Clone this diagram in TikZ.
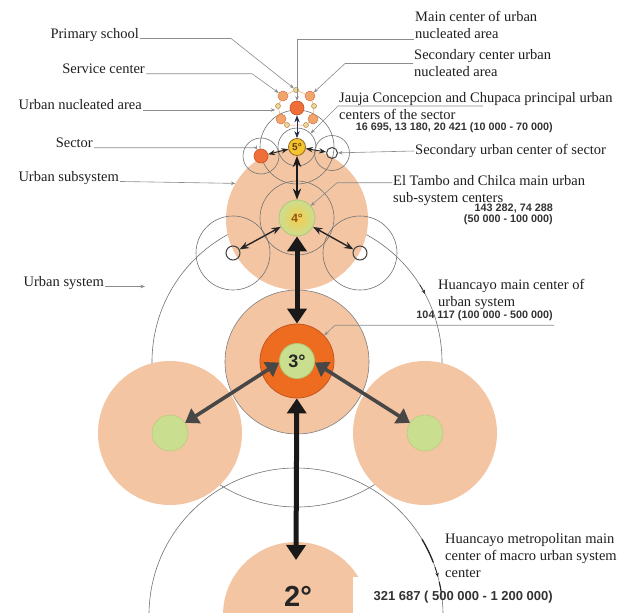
\documentclass[tikz,border=0pt]{standalone}
\usepackage{fontspec}
\setmainfont{Liberation Serif}
\newfontfamily\numfont{Liberation Sans}
\usetikzlibrary{arrows.meta}

\definecolor{peach}{RGB}{243,197,162}
\definecolor{ringorange}{RGB}{238,108,32}
\definecolor{ringedge}{RGB}{196,84,34}
\definecolor{sage}{RGB}{202,222,144}
\definecolor{sageedge}{RGB}{176,200,118}
\definecolor{gold}{RGB}{244,196,44}
\definecolor{goldedge}{RGB}{150,108,34}
\definecolor{mainorange}{RGB}{240,110,58}
\definecolor{secorange}{RGB}{243,164,104}
\definecolor{schoolfill}{RGB}{240,214,150}
\definecolor{navy}{RGB}{40,44,80}
\definecolor{brownnum}{RGB}{140,84,20}

\begin{document}
\begin{tikzpicture}[x=1pt, y=-1pt, >=Stealth,
    font=\fontsize{14.5}{17}\selectfont,
    dot/.style={circle, inner sep=0pt, minimum size=#1},
    halo/.style={dot=#1, draw=black!55, line width=0.6pt},
    lbl/.style={inner sep=1pt, text=black!88, align=left},
    num/.style={inner sep=1pt, text=black!80, align=right,
      font=\numfont\bfseries\fontsize{10.8}{11}\selectfont},
    leader/.style={draw=black!45, line width=0.6pt, -{Stealth[length=4.5pt,width=3.5pt]}},
    bigtip/.style={<->, >={Triangle[length=15pt,width=19pt]}},
    sidetip/.style={<->, >={Triangle[length=13pt,width=17pt]}}]
  \useasboundingbox (0,0) rectangle (635,613);
  \clip (0,0) rectangle (635,613);
  \fill[white] (0,0) rectangle (635,613);
  % ------------------------------------------------------------------ system circles
  \node[halo=290] (usys) at (297,362) {};
  \node[halo=294] (macro) at (296,615) {};
  % ------------------------------------------------------------------ pink areas
  \node[dot=142, fill=peach] (sub4) at (297,219) {};
  \node[dot=144, fill=peach, draw=black!50, line width=0.6pt] (p3) at (297,362) {};
  \node[dot=144, fill=peach] (p3l) at (170,433) {};
  \node[dot=144, fill=peach] (p3r) at (425,433) {};
  \node[dot=146, fill=peach] (p2) at (296,615) {};
  \fill[white] (353,577) rectangle (376,613);
  % ------------------------------------------------------------------ rings
  \node[halo=74] (ring4) at (297,218) {};
  \node[halo=74] (ho4l) at (233,253) {};
  \node[halo=74] (ho4r) at (360,253) {};
  \node[halo=74] (ring5b) at (297,147) {};
  \node[halo=38] (ring5a) at (297,147) {};
  \node[halo=36] (hs5l) at (261,156) {};
  \node[halo=35] (hs5r) at (332,153) {};
  % ------------------------------------------------------------------ level 3
  \node[dot=74, fill=ringorange, draw=ringedge, line width=0.8pt] (ring3) at (297,361) {};
  \node[dot=35, fill=sage, draw=sageedge, line width=0.8pt,
    font=\numfont\bfseries\fontsize{18}{18}\selectfont, text=black!85] (c3) at (297,361) {3°};
  \node[dot=36, fill=sage, draw=sageedge] (g3l) at (170,433) {};
  \node[dot=36, fill=sage, draw=sageedge] (g3r) at (425,433) {};
  % ------------------------------------------------------------------ level 4
  \node[dot=36, draw=sageedge, line width=0.8pt, inner color=gold!85, outer color=sage,
    font=\numfont\bfseries\fontsize{12}{12}\selectfont, text=brownnum] (c4) at (297,218) {4°};
  \node[dot=14, draw=black!75, line width=1pt] (o4l) at (233,253) {};
  \node[dot=14, draw=black!75, line width=1pt] (o4r) at (360,253) {};
  % ------------------------------------------------------------------ level 5
  \node[dot=17, fill=gold, draw=goldedge, line width=0.8pt,
    font=\numfont\bfseries\fontsize{10}{10}\selectfont, text=brownnum!70!black] (c5) at (297,147) {5°};
  \node[dot=14, fill=mainorange, draw=ringedge, line width=0.6pt] (s5l) at (261,156) {};
  \node[dot=11, draw=black!75, line width=1pt] (s5r) at (332,153) {};
  % ------------------------------------------------------------------ urban nucleated area
  \node[dot=14, fill=mainorange, draw=ringedge, line width=0.6pt] (nmain) at (297,108) {};
  \foreach \k/\px/\py in {1/283/96, 2/310/96, 3/281/119, 4/313/119}
    \node[dot=10, fill=secorange, draw=ringedge!80, line width=0.5pt] (n\k) at (\px,\py) {};
  \foreach \k/\px/\py in {0/296/90, 1/278/106, 2/314/106, 3/287/125, 4/306/125}
    \node[dot=5, fill=schoolfill, draw=goldedge!80, line width=0.5pt] (ps\k) at (\px,\py) {};
  \draw[secorange, line width=0.5pt] (ps0) -- (n2) -- (ps2) -- (n4) -- (ps4) -- (ps3)
    -- (n3) -- (ps1) -- (n1) -- (ps0);
  % ------------------------------------------------------------------ links between centres
  \draw[<->, navy, line width=0.9pt] (nmain) -- (c5);
  \draw[<->, black!85, line width=0.9pt] (c5) -- (s5l);
  \draw[<->, black!85, line width=0.9pt] (c5) -- (s5r);
  \draw[<->, black!90, line width=1.8pt] (c5) -- (c4);
  \draw[<->, black!85, line width=1.4pt] (c4) -- (o4l);
  \draw[<->, black!85, line width=1.4pt] (c4) -- (o4r);
  \coordinate (tip2) at (296,560);
  \draw[bigtip, line width=5pt, black!90] (c4) -- (ring3);
  \draw[bigtip, line width=5pt, black!90] (ring3) -- (tip2);
  \draw[sidetip, line width=3.6pt, black!72] (c3.185) -- (g3l.34);
  \draw[sidetip, line width=3.6pt, black!72] (c3.-5) -- (g3r.146);
  % marks on the system circles
  \draw[black!80, line width=0.8pt, -{Stealth[length=4pt,width=3.5pt]}]
    (usys.center) ++(-32:145) arc[start angle=-32, end angle=-28, radius=145];
  \draw[black!85, line width=1.3pt]
    (macro.center) ++(-31:147) arc[start angle=-31, end angle=-21, radius=147];
  \draw[black!85, line width=0.8pt, -{Stealth[length=4pt,width=3.5pt]}]
    (macro.center) ++(-19:147) arc[start angle=-19, end angle=-15, radius=147];
  \draw[black!85, line width=1.1pt]
    (macro.center) ++(-13:147) arc[start angle=-13, end angle=-9, radius=147];
  \node[inner sep=0pt, font=\numfont\bfseries\fontsize{29}{29}\selectfont, text=black!85]
    (t2) at (298,596) {2°};
  % ------------------------------------------------------------------ labels, left
  \node[lbl, anchor=east] (lps) at (140,35) {Primary school};
  \node[lbl, anchor=east] (lsc) at (146,69) {Service center};
  \node[lbl, anchor=east] (luna) at (143,105) {Urban nucleated area};
  \node[lbl, anchor=east] (lsec) at (94,143) {Sector};
  \node[lbl, anchor=east] (lusub) at (120,178) {Urban subsystem};
  \node[lbl, anchor=east] (lusys) at (105,283) {Urban system};
  \draw[leader] (lps.base east) -- ++(91,0) -- (ps0);
  \draw[leader] (lsc.base east) -- ++(106,0) -- (n1);
  \draw[leader] (luna.base east) -- (luna.base east -| ps1.west);
  \draw[leader] (lsec.base east) -- ++(162,0) -- (s5l);
  \draw[leader] (lusub.base east) -- (sub4.150);
  \draw[leader] (lusys.base east) -- ++(40,0);
  % ------------------------------------------------------------------ labels, right
  \node[lbl, anchor=west] (lmain) at (414,24.5) {Main center of urban\\nucleated area};
  \node[lbl, anchor=west] (lscn) at (413,63.5) {Secondary center urban\\nucleated area};
  \node[lbl, anchor=west] (ljau) at (338,106)
    {Jauja Concepcion and Chupaca principal urban\\centers of the sector};
  \node[lbl, anchor=west] (lsus) at (414,151) {Secondary urban center of sector};
  \node[lbl, anchor=west] (ltam) at (392,190.5) {El Tambo and Chilca main urban\\sub-system centers};
  \node[lbl, anchor=west] (lhmc) at (437,294) {Huancayo main center of\\urban system};
  \node[lbl, anchor=west] (lhmet) at (444,556)
    {Huancayo metropolitan main\\center of macro urban system\\center};
  \node[num, anchor=east] (njau) at (554,127.5) {16 695, 13 180, 20 421 (10 000 - 70 000)};
  \node[num, anchor=east] (ntam) at (554,214) {143 282, 74 288\\(50 000 - 100 000)};
  \node[num, anchor=east] (n104) at (554,316) {104 117 (100 000 - 500 000)};
  \node[num, anchor=east, font=\numfont\bfseries\fontsize{13}{13}\selectfont]
    (n321) at (554,597) {321 687 ( 500 000 - 1 200 000)};
  \draw[leader] (lmain.south west) -- (nmain |- lmain.south west) -- (nmain);
  \draw[leader] (lscn.west) -- ++(-68,0) -- (n2);
  \draw[leader] ([xshift=145pt]ljau.west) -- (ljau.west) -- (ring5a);
  \draw[leader] (lsus.west) -- (s5r);
  \draw[leader] ([yshift=-8.5pt]ltam.north west) -- ++(-55,0) -- (c4);
  \draw[leader] ([yshift=-3pt]n104.south east) -- ++(-219,0) -- (ring3);
\end{tikzpicture}
\end{document}
